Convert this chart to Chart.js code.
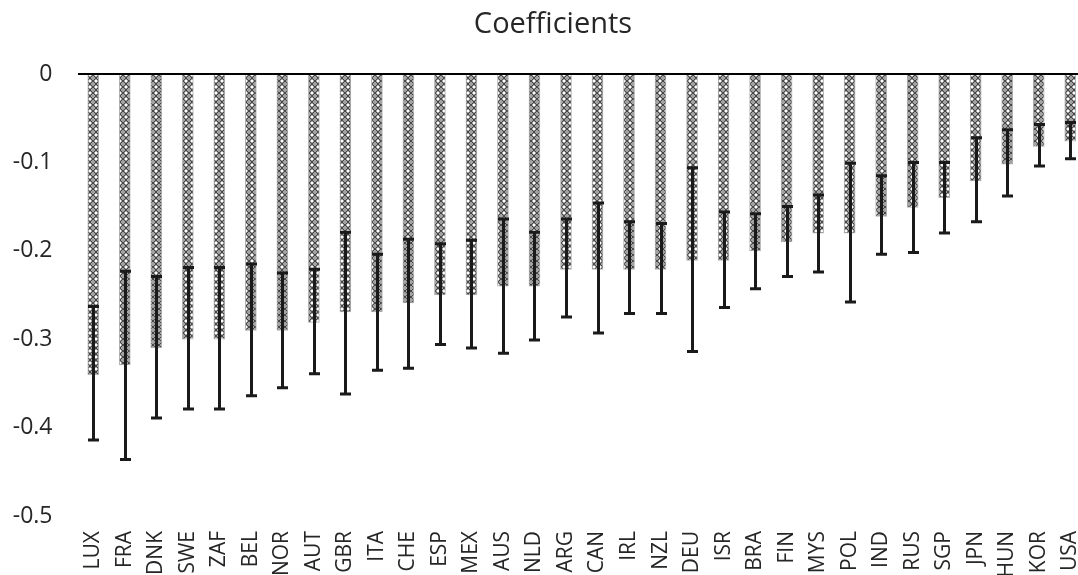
<!DOCTYPE html>
<html>
<head>
<meta charset="utf-8">
<script src="https://cdn.jsdelivr.net/npm/chart.js@4.4.1/dist/chart.umd.min.js"></script>
<style>
  html, body { margin: 0; padding: 0; overflow: hidden; background: #fff; width: 1078px; height: 575px; }
  #wrap { position: absolute; left: 0; top: 0; width: 1106px; height: 600px; }
</style>
</head>
<body>
<div id="wrap"><canvas id="chart" width="1106" height="600"></canvas></div>
<script>
// Country codes, ordered from the most negative coefficient to the least negative
const countries = ['LUX','FRA','DNK','SWE','ZAF','BEL','NOR','AUT','GBR','ITA','CHE','ESP','MEX','AUS','NLD','ARG',
                   'CAN','IRL','NZL','DEU','ISR','BRA','FIN','MYS','POL','IND','RUS','SGP','JPN','HUN','KOR','USA'];

// Point estimates
const coef = [-0.340,-0.329,-0.310,-0.300,-0.300,-0.290,-0.290,-0.281,-0.269,-0.269,-0.259,-0.250,-0.250,-0.240,-0.240,-0.221,
              -0.221,-0.221,-0.221,-0.211,-0.211,-0.200,-0.190,-0.180,-0.180,-0.161,-0.151,-0.140,-0.121,-0.102,-0.082,-0.076];

// Lower and upper ends of the confidence intervals
const ciLow  = [-0.414,-0.436,-0.389,-0.379,-0.379,-0.364,-0.355,-0.339,-0.362,-0.335,-0.333,-0.306,-0.310,-0.316,-0.301,-0.275,
                -0.293,-0.271,-0.271,-0.314,-0.264,-0.243,-0.229,-0.224,-0.258,-0.204,-0.202,-0.180,-0.167,-0.138,-0.104,-0.096];
const ciHigh = [-0.263,-0.223,-0.229,-0.219,-0.219,-0.215,-0.225,-0.221,-0.179,-0.204,-0.187,-0.192,-0.188,-0.164,-0.179,-0.164,
                -0.146,-0.167,-0.169,-0.106,-0.156,-0.158,-0.150,-0.137,-0.101,-0.115,-0.100,-0.100,-0.072,-0.063,-0.057,-0.055];

// Value axis ticks
const yTicks = [0, -0.1, -0.2, -0.3, -0.4, -0.5];
const yTickLabels = ['0', '-0.1', '-0.2', '-0.3', '-0.4', '-0.5'];

const FONT = "'Open Sans', 'Noto Sans', sans-serif";
const TEXT = '#262626';

// Small cross-hatch tile used as the bar fill
function hatchFill() {
  const tile = document.createElement('canvas');
  tile.width = 6; tile.height = 6;
  const c = tile.getContext('2d');
  c.fillStyle = '#a2a2a2';
  c.fillRect(0, 0, 6, 6);
  c.fillStyle = '#474747';
  for (let i = 0; i < 6; i++) {
    c.fillRect(i, i, 1, 1);
    c.fillRect(5 - i, i, 1, 1);
  }
  c.fillStyle = '#ffffff';
  c.fillRect(0, 2, 1, 2);
  c.fillRect(5, 2, 1, 2);
  return c.createPattern(tile, 'repeat');
}

// Whisker lines with end caps, placed through the chart scales
const errorBars = {
  id: 'errorBars',
  afterDatasetsDraw(chart) {
    const { ctx, scales: { x, y } } = chart;
    ctx.save();
    ctx.strokeStyle = '#1a1a1a';
    ctx.lineWidth = 3;
    ctx.lineCap = 'butt';
    countries.forEach((_, i) => {
      const px = Math.round(x.getPixelForValue(i)) + 0.5;
      const yLo = y.getPixelForValue(ciLow[i]);
      const yHi = y.getPixelForValue(ciHigh[i]);
      ctx.beginPath();
      ctx.moveTo(px, yHi); ctx.lineTo(px, yLo);
      ctx.moveTo(px - 5.5, yHi); ctx.lineTo(px + 5.5, yHi);
      ctx.moveTo(px - 5.5, yLo); ctx.lineTo(px + 5.5, yLo);
      ctx.stroke();
    });
    ctx.restore();
  }
};

// Centre the title over the span from x=20 to the plot's right edge
const titleSpan = {
  id: 'titleSpan',
  afterLayout(chart) {
    if (chart.titleBlock) chart.titleBlock.left = 20;
  }
};

new Chart(document.getElementById('chart'), {
  type: 'bar',
  data: {
    labels: countries,
    datasets: [{
      data: coef,
      backgroundColor: hatchFill(),
      borderColor: '#b0b0b0',
      borderWidth: 1,
      borderSkipped: 'start',
      barThickness: 11
    }]
  },
  options: {
    responsive: false,
    animation: false,
    events: [],
    layout: { padding: { left: 0, right: 20, top: 0, bottom: 0 } },
    plugins: {
      legend: { display: false },
      tooltip: { enabled: false },
      title: {
        display: true,
        text: 'Coefficients',
        color: TEXT,
        font: { family: FONT, size: 29, weight: 'normal' },
        padding: { top: 7, bottom: 32.2 }
      }
    },
    scales: {
      x: {
        grid: { display: false },
        border: { display: false },
        ticks: {
          autoSkip: false,
          minRotation: 90,
          maxRotation: 90,
          padding: 7,
          color: TEXT,
          font: { family: FONT, size: 21 }
        },
        afterFit(scale) { scale.height = 84; }
      },
      y: {
        min: -0.5,
        max: 0,
        z: 1,
        afterBuildTicks(scale) { scale.ticks = yTicks.map(v => ({ value: v })); },
        grid: {
          drawTicks: false,
          lineWidth: 2,
          color: ctx => (ctx.tick && ctx.tick.value === 0) ? '#000000' : 'rgba(0,0,0,0)'
        },
        border: { display: false },
        ticks: {
          padding: 25,
          color: TEXT,
          font: { family: FONT, size: 23 },
          callback: (v) => yTickLabels[yTicks.indexOf(v)] ?? ''
        },
        afterFit(scale) { scale.width = 77.5; }
      }
    }
  },
  plugins: [errorBars, titleSpan]
});
</script>
</body>
</html>
